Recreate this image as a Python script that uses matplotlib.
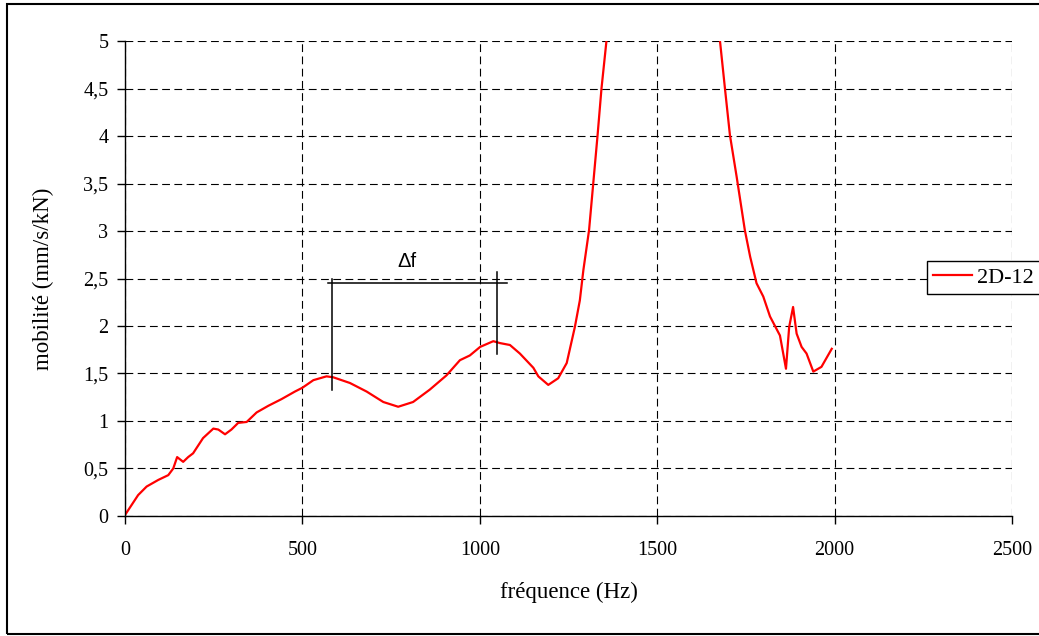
import matplotlib
matplotlib.use('Agg')
import matplotlib.pyplot as plt
import matplotlib.patches as patches
import numpy as np

# Data
freq = [0, 37, 61, 94, 122, 136, 147, 164, 178, 192, 220, 249, 263, 282, 300,
        319, 343, 371, 404, 441, 479, 500, 531, 568, 587, 634, 681, 728, 770,
        812, 859, 906, 944, 972, 1001, 1038, 1057, 1085, 1113, 1151, 1165,
        1193, 1221, 1245, 1268, 1282, 1292, 1308, 1320, 1332, 1343, 1357,
        1372, 1660, 1677, 1691, 1705, 1724, 1747, 1762, 1780, 1799, 1818,
        1846, 1863, 1872, 1883, 1893, 1907, 1921, 1940, 1963, 1992]
mobilite = [0.01, 0.22, 0.31, 0.38, 0.43, 0.50, 0.62, 0.57, 0.62, 0.66, 0.82,
            0.92, 0.91, 0.86, 0.91, 0.98, 0.99, 1.09, 1.16, 1.23, 1.31, 1.35,
            1.43, 1.47, 1.46, 1.40, 1.31, 1.20, 1.15, 1.20, 1.33, 1.48, 1.64,
            1.69, 1.78, 1.84, 1.82, 1.80, 1.71, 1.56, 1.47, 1.38, 1.45, 1.61,
            1.99, 2.27, 2.59, 3.01, 3.51, 4.01, 4.50, 5.00, 5.6, 5.6, 5.00,
            4.50, 4.01, 3.57, 3.01, 2.73, 2.45, 2.31, 2.10, 1.90, 1.55, 1.99,
            2.20, 1.92, 1.78, 1.71, 1.52, 1.57, 1.76]

x_ticks = [0, 500, 1000, 1500, 2000, 2500]
y_ticks = [0, 0.5, 1, 1.5, 2, 2.5, 3, 3.5, 4, 4.5, 5]
y_labels = ['0', '0,5', '1', '1,5', '2', '2,5', '3', '3,5', '4', '4,5', '5']

# delta f annotation (Hz, mobility)
df_left, df_right, df_level = 584, 1049, 2.45

plt.rcParams['font.family'] = ['Liberation Serif', 'DejaVu Serif']

fig = plt.figure(figsize=(10.39, 6.36), dpi=100)
ax = fig.add_axes([0.1203, 0.1887, 0.974 - 0.1203, 0.9355 - 0.1887])

ax.plot(freq, mobilite, color='red', linewidth=1.6, label='2D-12')

# Δf bracket
ax.plot([573, 1077], [df_level, df_level], color='black', linewidth=1.1)
ax.plot([df_left, df_left], [2.50, 1.33], color='black', linewidth=1.1)
ax.plot([df_right, df_right], [2.57, 1.71], color='black', linewidth=1.1)
ax.text(794, 2.68, '\u0394f', ha='center', va='center', fontsize=14.5,
        family=['Liberation Sans', 'DejaVu Sans'])

ax.set_xlim(0, 2500)
ax.set_ylim(0, 5)
ax.set_xticks(x_ticks)
ax.set_yticks(y_ticks)
ax.set_yticklabels(y_labels)
ax.tick_params(direction='out', length=6, width=1, labelsize=14.5, pad=6)
ax.tick_params(axis='x', pad=12)

ax.grid(True, color='black', linestyle=(0, (7, 4)), linewidth=0.8)
ax.spines['top'].set_visible(False)
ax.spines['right'].set_visible(False)
ax.spines['left'].set_linewidth(1)
ax.spines['bottom'].set_linewidth(1)

ax.set_xlabel('fréquence (Hz)', fontsize=16.5, labelpad=16)
ax.set_ylabel('mobilité (mm/s/kN)', fontsize=16.5, labelpad=21)

leg = fig.legend(loc='center left', bbox_to_anchor=(0.892, 0.564), fontsize=16,
                 fancybox=False, edgecolor='black', framealpha=1,
                 handlelength=1.75, handletextpad=0.25, borderpad=0.27,
                 borderaxespad=0)
leg.get_frame().set_linewidth(1)

# outer chart frame
border = patches.Rectangle((7 / 1039, 2 / 636), 1.1, 630 / 636, transform=fig.transFigure,
                           fill=False, edgecolor='black', linewidth=1.5, clip_on=False)
fig.patches.append(border)

fig.savefig('out.png', dpi=100)
